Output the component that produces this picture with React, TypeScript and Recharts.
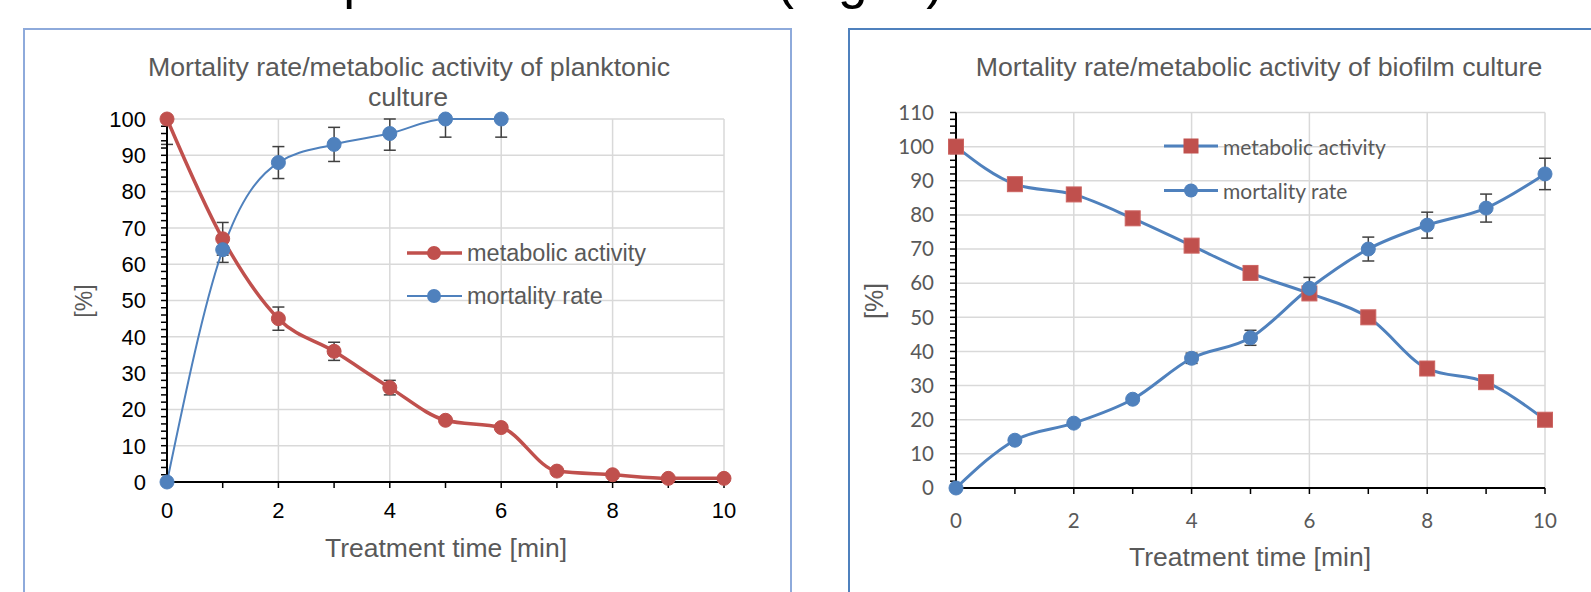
import React from 'react';
import { LineChart, Line, XAxis, YAxis, CartesianGrid, ErrorBar, Legend } from 'recharts';

// ---------- data ----------
const times = [0, 1, 2, 3, 4, 5, 6, 7, 8, 9, 10];
const xMajorTicks = [0, 2, 4, 6, 8, 10];
const seriesNames = ['metabolic activity', 'mortality rate'];

// planktonic culture
const plankMetabolic = [100, 67, 45, 36, 26, 17, 15, 3, 2, 1, 1];
const plankMetabolicErr = [7, 4.5, 3.2, 2.5, 2, 0, 0, 0, 0, 0, 0];
const plankMortality = [0, 64, 88, 93, 96, 100, 100, null, null, null, null];
const plankMortalityErr = [0, 3.5, 4.4, 4.7, 4.6, 5, 5, 0, 0, 0, 0];
const plankYMax = 100;
const plankYMajor = [0, 10, 20, 30, 40, 50, 60, 70, 80, 90, 100];

// biofilm culture
const bioMetabolic = [100, 89, 86, 79, 71, 63, 57, 50, 35, 31, 20];
const bioMortality = [0, 14, 19, 26, 38, 44, 58.5, 70, 77, 82, 92];
const bioMortalityErr = [0, 0, 0, 0, 1.5, 2.2, 3.2, 3.5, 3.8, 4.1, 4.6];
const bioYMax = 110;
const bioYMajor = [0, 10, 20, 30, 40, 50, 60, 70, 80, 90, 100, 110];

// ---------- helpers ----------
const RED = '#C0504D';
const BLUE = '#4F81BD';
const GRAY_TXT = '#595959';
const GRID = '#D9D9D9';
const LIB = "'Liberation Sans', Arial, sans-serif";
const CAL = "Lato, 'Liberation Sans', sans-serif";

const minorTicks = (max: number) => Array.from({ length: max / 2 + 1 }, (_, i) => i * 2);

const clampErr = (v: number | null, e: number, max: number) => {
  if (v == null || !e) return null;
  return [e, Math.min(e, max - v)];
};

const plankData = times.map((t, i) => ({
  t,
  met: plankMetabolic[i],
  metErr: clampErr(plankMetabolic[i], plankMetabolicErr[i], plankYMax),
  mort: plankMortality[i],
  mortErr: clampErr(plankMortality[i], plankMortalityErr[i], plankYMax),
}));

const bioData = times.map((t, i) => ({
  t,
  met: bioMetabolic[i],
  mort: bioMortality[i],
  mortErr: clampErr(bioMortality[i], bioMortalityErr[i], bioYMax),
}));

const SquareDot = (props: any) => {
  const { cx, cy, index } = props;
  if (cx == null || cy == null || isNaN(cx) || isNaN(cy)) return <g key={`sq-${index}`} />;
  return (
    <rect key={`sq-${index}`} x={cx - 7.5} y={cy - 7.5} width={15} height={15} fill={RED} stroke="#CC6461" strokeWidth={1} />
  );
};

const LegendLeft = () => (
  <svg width={300} height={90} style={{ display: 'block', overflow: 'visible' }}>
    {seriesNames.map((name, i) => {
      const y = 23 + i * 43;
      const c = i === 0 ? RED : BLUE;
      const sw = i === 0 ? 3.5 : 2;
      return (
        <g key={name}>
          <line x1={7} x2={62} y1={y} y2={y} stroke={c} strokeWidth={sw} />
          <circle cx={34} cy={y} r={7} fill={c} />
          <text x={67} y={y} dominantBaseline="central" fontSize={23.5} fill={GRAY_TXT} fontFamily={LIB}>
            {name}
          </text>
        </g>
      );
    })}
  </svg>
);

const LegendRight = () => (
  <svg width={280} height={90} style={{ display: 'block', overflow: 'visible' }}>
    {seriesNames.map((name, i) => {
      const y = 22 + i * 44.5;
      return (
        <g key={name}>
          <line x1={4} x2={58} y1={y} y2={y} stroke={BLUE} strokeWidth={3} />
          {i === 0 ? (
            <rect x={31 - 7.5} y={y - 7.5} width={15} height={15} fill={RED} />
          ) : (
            <circle cx={31} cy={y} r={7} fill={BLUE} />
          )}
          <text x={63} y={y} dominantBaseline="central" fontSize={21} fill={GRAY_TXT} fontFamily={CAL}>
            {name}
          </text>
        </g>
      );
    })}
  </svg>
);

const LeftChart = () => (
  <div style={{ position: 'absolute', left: 0, top: 0 }}>
    <LineChart width={800} height={592} data={plankData} margin={{ top: 119, right: 76, bottom: 80, left: 107 }}>
      <CartesianGrid stroke={GRID} strokeWidth={1.5} horizontalValues={plankYMajor} verticalValues={xMajorTicks} />
      <XAxis
        dataKey="t"
        type="number"
        domain={[0, 10]}
        ticks={times}
        interval={0}
        height={30}
        tickSize={6}
        tickMargin={14}
        tickFormatter={(v: number) => (xMajorTicks.includes(v) ? String(v) : '')}
        axisLine={{ stroke: '#000', strokeWidth: 2 }}
        tickLine={{ stroke: '#000', strokeWidth: 1.5 }}
        tick={{ fill: '#000', fontSize: 22, fontFamily: LIB }}
      />
      <YAxis
        type="number"
        domain={[0, plankYMax]}
        ticks={minorTicks(plankYMax)}
        interval={0}
        width={60}
        tickSize={6}
        tickMargin={15}
        tickFormatter={(v: number) => (plankYMajor.includes(v) ? String(v) : '')}
        axisLine={{ stroke: '#000', strokeWidth: 2 }}
        tickLine={{ stroke: '#000', strokeWidth: 1.5 }}
        tick={{ fill: '#000', fontSize: 22, fontFamily: LIB }}
      />
      <Legend
        layout="vertical"
        align="center"
        verticalAlign="middle"
        content={() => <LegendLeft />}
        wrapperStyle={{ left: 400, top: 230, width: 300, height: 90 }}
      />
      <Line
        dataKey="met"
        name={seriesNames[0]}
        type="monotone"
        stroke={RED}
        strokeWidth={3.5}
        dot={{ r: 7, fill: RED, stroke: RED, strokeWidth: 1 }}
        activeDot={false}
        isAnimationActive={false}
      >
        <ErrorBar dataKey="metErr" direction="y" width={6} stroke="#404040" strokeWidth={1.5} />
      </Line>
      <Line
        dataKey="mort"
        name={seriesNames[1]}
        type="monotone"
        stroke={BLUE}
        strokeWidth={2}
        dot={{ r: 7, fill: BLUE, stroke: BLUE, strokeWidth: 1 }}
        activeDot={false}
        isAnimationActive={false}
      >
        <ErrorBar dataKey="mortErr" direction="y" width={6} stroke="#404040" strokeWidth={1.5} />
      </Line>
    </LineChart>
  </div>
);

const RightChart = () => (
  <div style={{ position: 'absolute', left: 800, top: 0 }}>
    <LineChart width={791} height={592} data={bioData} margin={{ top: 112.5, right: 46, bottom: 74, left: 96 }}>
      <CartesianGrid stroke={GRID} strokeWidth={1.5} horizontalValues={bioYMajor} verticalValues={xMajorTicks} />
      <XAxis
        dataKey="t"
        type="number"
        domain={[0, 10]}
        ticks={times}
        interval={0}
        height={30}
        tickSize={6}
        tickMargin={19}
        tickFormatter={(v: number) => (xMajorTicks.includes(v) ? String(v) : '')}
        axisLine={{ stroke: '#000', strokeWidth: 2 }}
        tickLine={{ stroke: '#000', strokeWidth: 1.5 }}
        tick={{ fill: GRAY_TXT, fontSize: 20.5, fontFamily: CAL }}
      />
      <YAxis
        type="number"
        domain={[0, bioYMax]}
        ticks={minorTicks(bioYMax)}
        interval={0}
        width={60}
        tickSize={6}
        tickMargin={16}
        tickFormatter={(v: number) => (bioYMajor.includes(v) ? String(v) : '')}
        axisLine={{ stroke: '#000', strokeWidth: 2 }}
        tickLine={{ stroke: '#000', strokeWidth: 1.5 }}
        tick={{ fill: GRAY_TXT, fontSize: 20.5, fontFamily: CAL }}
      />
      <Legend
        layout="vertical"
        align="center"
        verticalAlign="middle"
        content={() => <LegendRight />}
        wrapperStyle={{ left: 360, top: 124, width: 280, height: 90 }}
      />
      <Line
        dataKey="met"
        name={seriesNames[0]}
        type="monotone"
        stroke={BLUE}
        strokeWidth={3}
        dot={SquareDot}
        activeDot={false}
        isAnimationActive={false}
      />
      <Line
        dataKey="mort"
        name={seriesNames[1]}
        type="monotone"
        stroke={BLUE}
        strokeWidth={3}
        dot={{ r: 7, fill: BLUE, stroke: BLUE, strokeWidth: 1 }}
        activeDot={false}
        isAnimationActive={false}
      >
        <ErrorBar dataKey="mortErr" direction="y" width={6} stroke="#404040" strokeWidth={1.5} />
      </Line>
    </LineChart>
  </div>
);

export default function App() {
  return (
    <div
      style={{
        position: 'absolute',
        left: 0,
        top: 0,
        width: 1591,
        height: 592,
        background: '#fff',
        overflow: 'hidden',
      }}
    >
      <div
        style={{
          position: 'absolute',
          left: 23,
          top: 28,
          width: 769,
          height: 700,
          boxSizing: 'border-box',
          border: '2px solid #8EAADB',
        }}
      />
      <div
        style={{
          position: 'absolute',
          left: 848,
          top: 28,
          width: 800,
          height: 700,
          boxSizing: 'border-box',
          border: '2px solid #4F81BD',
        }}
      />
      <LeftChart />
      <RightChart />
      <svg
        width={1591}
        height={592}
        style={{ position: 'absolute', left: 0, top: 0, pointerEvents: 'none' }}
      >
        <text x={944} y={-2} textAnchor="end" fontSize={53} fontFamily={LIB} fill="#000">
          Experimental results (Fig. 2)
        </text>
        <text x={409} y={76} textAnchor="middle" fontSize={26.7} fontFamily={LIB} fill={GRAY_TXT}>
          Mortality rate/metabolic activity of planktonic
        </text>
        <text x={408} y={106} textAnchor="middle" fontSize={26.7} fontFamily={LIB} fill={GRAY_TXT}>
          culture
        </text>
        <text x={1259} y={76} textAnchor="middle" fontSize={26.7} fontFamily={LIB} fill={GRAY_TXT}>
          Mortality rate/metabolic activity of biofilm culture
        </text>
        <text x={446} y={557} textAnchor="middle" fontSize={26.5} fontFamily={LIB} fill={GRAY_TXT}>
          Treatment time [min]
        </text>
        <text x={1250} y={566} textAnchor="middle" fontSize={26.5} fontFamily={LIB} fill={GRAY_TXT}>
          Treatment time [min]
        </text>
        <text
          x={84}
          y={301}
          textAnchor="middle"
          dominantBaseline="central"
          fontSize={23}
          fontFamily={LIB}
          fill={GRAY_TXT}
          transform="rotate(-90 84 301)"
        >
          [%]
        </text>
        <text
          x={874}
          y={301}
          textAnchor="middle"
          dominantBaseline="central"
          fontSize={25}
          fontFamily={LIB}
          fill={GRAY_TXT}
          transform="rotate(-90 874 301)"
        >
          [%]
        </text>
      </svg>
    </div>
  );
}
